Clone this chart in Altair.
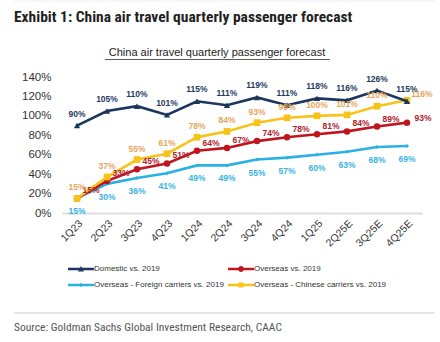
import altair as alt
import pandas as pd

# ---- data ----
quarters = ["1Q23", "2Q23", "3Q23", "4Q23", "1Q24", "2Q24", "3Q24", "4Q24",
            "1Q25", "2Q25E", "3Q25E", "4Q25E"]
domestic = [90, 105, 110, 101, 115, 111, 119, 111, 118, 116, 126, 115]
overseas = [15, 33, 45, 51, 64, 67, 74, 78, 81, 84, 89, 93]
foreign = [15, 30, 36, 41, 49, 49, 55, 57, 60, 63, 68, 69]
chinese = [15, 37, 55, 61, 78, 84, 93, 98, 100, 101, 110, 116]

series_names = ["Domestic vs. 2019", "Overseas vs. 2019",
                "Overseas - Foreign carriers vs. 2019",
                "Overseas - Chinese carriers vs. 2019"]
series_values = [domestic, overseas, foreign, chinese]

title_text = "Exhibit 1: China air travel quarterly passenger forecast"
subtitle_text = "China air travel quarterly passenger forecast"
source_text = "Source: Goldman Sachs Global Investment Research, CAAC"

# ---- styles ----
line_colors = ["#1B365D", "#C0151F", "#2BB0E3", "#F7C31B"]
label_colors = ["#1F3B63", "#B3212B", "#38B2E0", "#E9A45C"]
shapes = ["triangle-up", "circle", "diamond", "square"]
sizes = [40, 42, 16, 45]
label_offsets = [(0, -12), (14, -8), (0, 13), (0, -11)]
last_label_offsets = [(0, -12), (16, -5), (0, 13), (15, -6)]
draw_order = [2, 1, 3, 0]
legend_columns = [[0, 2], [1, 3]]
legend_xs = [14, 174]
FONT = "Liberation Sans, Arial, sans-serif"
NARROW = "Liberation Sans Narrow, Arial Narrow, Roboto Condensed, DejaVu Sans Condensed, sans-serif"

legend_paths = [
    "M-2.6,-0.24L2.6,-0.24L2.6,0.24L-2.6,0.24Z M-0.6,0.5L0,-0.6L0.6,0.5Z",
    "M-2.6,-0.24L2.6,-0.24L2.6,0.24L-2.6,0.24Z M-0.6,0A0.6,0.6 0 1,1 0.6,0A0.6,0.6 0 1,1 -0.6,0Z",
    "M-2.6,-0.24L2.6,-0.24L2.6,0.24L-2.6,0.24Z M0,-0.45L0.45,0L0,0.45L-0.45,0Z",
    "M-2.6,-0.24L2.6,-0.24L2.6,0.24L-2.6,0.24Z M-0.5,-0.5L0.5,-0.5L0.5,0.5L-0.5,0.5Z",
]

rows = []
for name, vals in zip(series_names, series_values):
    for q, v in zip(quarters, vals):
        rows.append({"series": name, "quarter": q, "value": v})
df = pd.DataFrame(rows)
last_q = quarters[-1]

x_enc = alt.X("quarter:N", sort=quarters,
              scale=alt.Scale(type="point", padding=0.5),
              axis=alt.Axis(title=None, labelAngle=-45, labelFontSize=10.5,
                            labelFont=FONT, labelColor="#333333", ticks=False,
                            domainColor="#DDDDDD", domainWidth=2, labelPadding=5,
                            grid=False))
y_enc = alt.Y("value:Q", scale=alt.Scale(domain=[0, 140], nice=False),
              axis=alt.Axis(title=None, values=list(range(0, 141, 20)),
                            labelExpr="datum.value + '%'", labelFontSize=11.5,
                            labelFont=FONT, labelColor="#333333", ticks=False,
                            domain=False, grid=False, labelPadding=11))

layers = []
for i in draw_order:
    name = series_names[i]
    base = alt.Chart(df).transform_filter(alt.datum.series == name)
    layers.append(base.mark_line(strokeWidth=2.6, color=line_colors[i]).encode(x=x_enc, y=y_enc))
    layers.append(base.mark_point(shape=shapes[i], size=sizes[i], filled=True, opacity=1,
                                  color=line_colors[i]).encode(x=x_enc, y=y_enc))

for i in range(4):
    name = series_names[i]
    for offs, cond in ((label_offsets[i], alt.datum.quarter != last_q),
                       (last_label_offsets[i], alt.datum.quarter == last_q)):
        dx, dy = offs
        layers.append(
            alt.Chart(df).transform_filter(alt.datum.series == name)
            .transform_filter(cond)
            .transform_calculate(label="datum.value + '%'")
            .mark_text(dx=dx, dy=dy, fontSize=8.5, fontWeight="bold", font=FONT,
                       color=label_colors[i])
            .encode(x=x_enc, y=y_enc, text="label:N")
        )

for col, lx in zip(legend_columns, legend_xs):
    names = [series_names[k] for k in col]
    leg = dict(title=None, orient="none", legendX=lx, legendY=187, direction="vertical",
               symbolSize=100, symbolOpacity=1, symbolStrokeWidth=0,
               labelFontSize=8, labelFont=FONT, labelColor="#333333", rowPadding=7,
               labelOffset=8, padding=0, labelLimit=300)
    layers.append(
        alt.Chart(df).transform_filter(alt.FieldOneOfPredicate(field="series", oneOf=names))
        .mark_point(filled=True, opacity=0).encode(
            x=x_enc, y=y_enc,
            color=alt.Color("series:N", scale=alt.Scale(domain=names, range=[line_colors[k] for k in col]),
                            legend=alt.Legend(**leg)),
            shape=alt.Shape("series:N", scale=alt.Scale(domain=names, range=[legend_paths[k] for k in col]),
                            legend=alt.Legend(**leg)),
        )
    )

def text_layer(txt, x, y, **kw):
    return alt.Chart(pd.DataFrame({"t": [txt]})).mark_text(align="left", baseline="alphabetic", **kw).encode(
        x=alt.value(x), y=alt.value(y), text="t:N")

title = text_layer(title_text, -48, -55, font=NARROW, fontSize=15.5, fontWeight="bold", color="#222222")
subtitle = alt.Chart(pd.DataFrame({"t": [subtitle_text]})).mark_text(
    align="center", baseline="alphabetic", font=FONT, fontSize=11, color="#222222").encode(
    x=alt.value(155), y=alt.value(-21), text="t:N")
underline = alt.Chart(pd.DataFrame({"a": [0]})).mark_rule(color="#333333", strokeWidth=0.8).encode(
    x=alt.value(43), x2=alt.value(268), y=alt.value(-17.5))
top_rule = alt.Chart(pd.DataFrame({"a": [0]})).mark_rule(color="#EEEEEE", strokeWidth=1).encode(
    x=alt.value(-48), x2=alt.value(373), y=alt.value(-76))
sep_rule = alt.Chart(pd.DataFrame({"a": [0]})).mark_rule(color="#CCCCCC", strokeWidth=1.2).encode(
    x=alt.value(-48), x2=alt.value(373), y=alt.value(236))
source = text_layer(source_text, -48, 254, font=NARROW, fontSize=11.5, color="#555555")

chart = alt.layer(*layers, title, subtitle, underline, top_rule, sep_rule, source).resolve_scale(
    color="independent", shape="independent"
).properties(
    width=360, height=136,
    autosize=alt.AutoSizeParams(type="none"),
    padding={"left": 62, "top": 77, "right": 18, "bottom": 129},
    background="white",
).configure_view(stroke=None)

chart.save("out.html", embed_options={"renderer": "svg", "actions": False})
